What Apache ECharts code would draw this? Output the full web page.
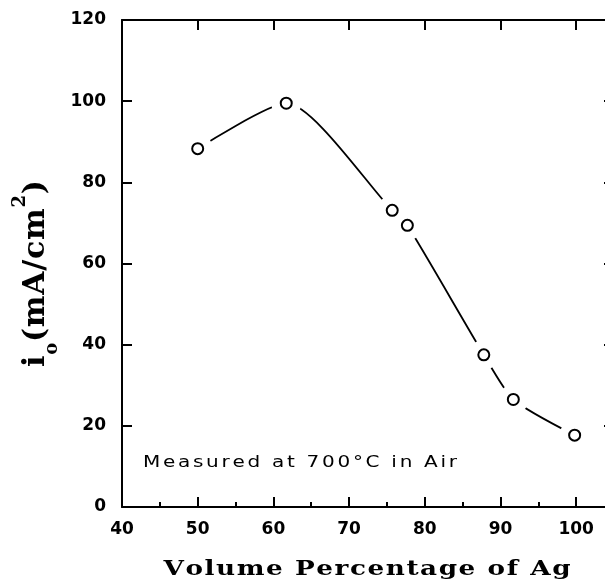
<!DOCTYPE html>
<html>
<head>
<meta charset="utf-8">
<script src="https://cdn.jsdelivr.net/npm/echarts@6/dist/echarts.min.js"></script>
<style>html,body{margin:0;padding:0;background:#fff}#c{width:605px;height:584px}</style>
</head>
<body>
<div id="c"></div>
<script>
// Data
const agVolumePct = [50, 61.7, 75.7, 77.7, 87.8, 91.7, 99.8];
const currentDensity = [88.3, 99.5, 73.1, 69.4, 37.5, 26.5, 17.7];
const xRange = [40, 105];
const yRange = [0, 120];
const xTickStep = 10;
const yTickStep = 20;
const annotationText = 'Measured at 700°C in Air';
const xTitle = 'Volume Percentage of Ag';

const points = agVolumePct.map((x, i) => [x, currentDensity[i]]);
const black = '#000';
const serif = '"DejaVu Serif", serif';
const sans = '"DejaVu Sans", sans-serif';

// letter-spaced rich text: each character is a token whose width = glyph advance + spacing
const measureCtx = document.createElement('canvas').getContext('2d');
function spacedRich(segments, targetWidth) {
  const chars = [];
  segments.forEach(seg => {
    measureCtx.font = (seg.fontWeight || 'normal') + ' ' + seg.fontSize + 'px ' + seg.fontFamily;
    seg.s.split('').forEach(ch => chars.push({ch: ch, w: measureCtx.measureText(ch).width, seg: seg}));
  });
  const natural = chars.reduce((a, c) => a + c.w, 0);
  const ls = Math.max(0, (targetWidth - natural) / (chars.length - 1));
  const rich = {};
  let text = '';
  chars.forEach((c, i) => {
    const name = 't' + i;
    rich[name] = {
      fontFamily: c.seg.fontFamily, fontWeight: c.seg.fontWeight || 'normal', fontSize: c.seg.fontSize,
      lineHeight: c.seg.lineHeight, verticalAlign: c.seg.verticalAlign || 'middle',
      width: c.w + (i < chars.length - 1 ? ls : 0), align: 'left', fill: black
    };
    text += '{' + name + '|' + c.ch + '}';
  });
  return {text: text, rich: rich};
}

const annScale = 1.25, xTitleScale = 1.25;
const annRich = spacedRich([{s: annotationText, fontFamily: sans, fontSize: 16, lineHeight: 20}], 314 / annScale);
const xTitleRich = spacedRich([{s: xTitle, fontFamily: serif, fontWeight: 'bold', fontSize: 21, lineHeight: 26}], 407 / xTitleScale);
const yTitleRich = spacedRich([
  {s: 'i', fontFamily: serif, fontWeight: 'bold', fontSize: 30, lineHeight: 50},
  {s: 'o', fontFamily: serif, fontWeight: 'bold', fontSize: 18, lineHeight: 16, verticalAlign: 'bottom'},
  {s: '(mA/cm', fontFamily: serif, fontWeight: 'bold', fontSize: 30, lineHeight: 50},
  {s: '2', fontFamily: serif, fontWeight: 'bold', fontSize: 18, lineHeight: 20, verticalAlign: 'top'},
  {s: ')', fontFamily: serif, fontWeight: 'bold', fontSize: 30, lineHeight: 50}
], 187);

const chart = echarts.init(document.getElementById('c'), null, {renderer: 'canvas'});
const lbl = {color: black, fontFamily: sans, fontWeight: 'bold', fontSize: 17};

chart.setOption({
  animation: false,
  backgroundColor: '#fff',
  grid: {left: 122, top: 20, width: 492, height: 487, outerBoundsMode: 'none', containLabel: false},
  xAxis: [
    {type: 'value', min: xRange[0], max: xRange[1], interval: xTickStep, position: 'bottom',
     axisLine: {lineStyle: {color: black, width: 2}},
     axisTick: {inside: true, length: 10, lineStyle: {color: black, width: 2}},
     axisLabel: Object.assign({margin: 14, formatter: v => (v % xTickStep === 0 ? String(v) : '')}, lbl),
     splitLine: {show: false}},
    {type: 'value', min: xRange[0], max: xRange[1], interval: xTickStep / 2, position: 'bottom',
     axisLine: {show: false},
     axisTick: {inside: true, length: 5, lineStyle: {color: black, width: 2}},
     axisLabel: {show: false}, splitLine: {show: false}},
    {type: 'value', min: xRange[0], max: xRange[1], interval: xTickStep, position: 'top',
     axisLine: {lineStyle: {color: black, width: 2}},
     axisTick: {inside: true, length: 10, lineStyle: {color: black, width: 2}},
     axisLabel: {show: false}, splitLine: {show: false}}
  ],
  yAxis: [
    {type: 'value', min: yRange[0], max: yRange[1], interval: yTickStep, position: 'left',
     axisLine: {lineStyle: {color: black, width: 2}},
     axisTick: {inside: true, length: 10, lineStyle: {color: black, width: 2}},
     axisLabel: Object.assign({margin: 16}, lbl),
     splitLine: {show: false}},
    {type: 'value', min: yRange[0], max: yRange[1], interval: yTickStep, position: 'right',
     axisLine: {lineStyle: {color: black, width: 2}},
     axisTick: {inside: true, length: 10, lineStyle: {color: black, width: 2}},
     axisLabel: {show: false}, splitLine: {show: false}}
  ],
  series: [
    {type: 'line', data: points, smooth: 0.22, symbol: 'none', z: 2,
     lineStyle: {color: black, width: 1.8}},
    {type: 'scatter', data: points, symbol: 'circle', symbolSize: 30, z: 3,
     itemStyle: {color: '#fff', opacity: 1}},
    {type: 'scatter', data: points, symbol: 'circle', symbolSize: 11, z: 4,
     itemStyle: {color: '#fff', borderColor: black, borderWidth: 2, opacity: 1}}
  ],
  graphic: [
    {type: 'text', x: 143, y: 462.5, scaleX: annScale, z: 10,
     style: {text: annRich.text, rich: annRich.rich, fill: black, align: 'left', verticalAlign: 'middle'}},
    {type: 'text', x: 367, y: 570, scaleX: xTitleScale, z: 10,
     style: {text: xTitleRich.text, rich: xTitleRich.rich, fill: black, align: 'center', verticalAlign: 'middle'}},
    {type: 'text', x: 36, y: 273.5, rotation: Math.PI / 2, z: 10,
     style: {text: yTitleRich.text, rich: yTitleRich.rich, fill: black, align: 'center', verticalAlign: 'middle'}}
  ]
});
</script>
</body>
</html>
